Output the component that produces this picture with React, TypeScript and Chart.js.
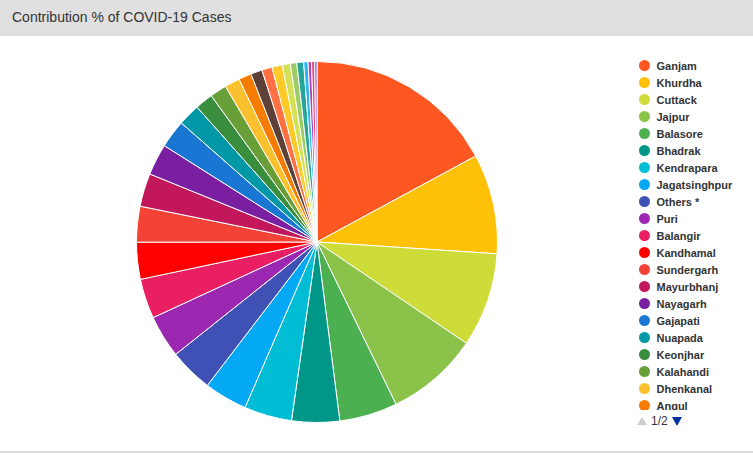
import React, { useEffect, useRef } from "react";
import { Chart, registerables } from "chart.js";

Chart.register(...registerables);

const titleText = "Contribution % of COVID-19 Cases";

const districts = [
  "Ganjam", "Khurdha", "Cuttack", "Jajpur", "Balasore", "Bhadrak", "Kendrapara",
  "Jagatsinghpur", "Others *", "Puri", "Balangir", "Kandhamal", "Sundergarh",
  "Mayurbhanj", "Nayagarh", "Gajapati", "Nuapada", "Keonjhar", "Kalahandi",
  "Dhenkanal", "Angul", "Sambalpur", "Jharsuguda", "Bargarh", "Koraput",
  "Rayagada", "Deogarh", "Boudh", "Sonepur", "Malkangiri", "Nabarangpur",
];

const shares = [
  17.1, 8.94, 8.44, 8.31, 5.19, 4.28, 4.27, 3.86, 3.92, 3.81, 3.56, 3.31, 3.19,
  2.97, 2.81, 2.5, 1.97, 1.61, 1.5, 1.36, 1.14, 1.03, 0.92, 0.92, 0.72, 0.58,
  0.61, 0.39, 0.31, 0.28, 0.2,
];

const colors = [
  "#FF5722", "#FFC107", "#CDDC39", "#8BC34A", "#4CAF50", "#009688", "#00BCD4",
  "#03A9F4", "#3F51B5", "#9C27B0", "#E91E63", "#FF0000", "#F44336", "#C2185B",
  "#7B1FA2", "#1976D2", "#0097A7", "#388E3C", "#689F38", "#FBC02D", "#F57C00",
  "#5D4037", "#FF7043", "#FFCA28", "#D4E157", "#9CCC65", "#26A69A", "#29B6F6",
  "#AB47BC", "#EC407A", "#7E57C2",
];

const legendPageSize = 21;
const legendPage = 1;
const legendPages = 2;

export default function App() {
  const ref = useRef<HTMLCanvasElement>(null);

  useEffect(() => {
    const chart = new Chart(ref.current!, {
      type: "pie",
      data: {
        labels: districts,
        datasets: [
          {
            data: shares,
            backgroundColor: colors,
            borderColor: "#ffffff",
            borderWidth: 1,
          },
        ],
      },
      options: {
        responsive: true,
        maintainAspectRatio: false,
        animation: false,
        layout: { padding: 0 },
        plugins: {
          legend: { display: false },
          tooltip: { enabled: false },
        },
      },
    });
    return () => chart.destroy();
  }, []);

  const pageItems = districts.slice(0, legendPageSize);

  return (
    <div
      style={{
        position: "absolute",
        left: 0,
        top: 0,
        width: 753,
        height: 455,
        background: "#ffffff",
        fontFamily: '"Liberation Sans", Arial, sans-serif',
        overflow: "hidden",
      }}
    >
      <div
        style={{
          position: "absolute",
          left: 0,
          top: 0,
          width: 753,
          height: 36,
          background: "#e0e0e0",
        }}
      >
        <div
          style={{
            position: "absolute",
            left: 12,
            top: 0,
            fontSize: 14,
            lineHeight: "34px",
            color: "#333333",
            whiteSpace: "nowrap",
          }}
        >
          {titleText}
        </div>
      </div>

      <div style={{ position: "absolute", left: 136, top: 61, width: 362, height: 362 }}>
        <canvas ref={ref} />
      </div>

      <div
        style={{
          position: "absolute",
          left: 639,
          top: 57,
          width: 114,
          height: 353,
          overflow: "hidden",
        }}
      >
        {pageItems.map((name, i) => (
          <div
            key={name}
            style={{ height: 17, display: "flex", alignItems: "center", whiteSpace: "nowrap" }}
          >
            <span
              style={{
                display: "inline-block",
                width: 11,
                height: 11,
                borderRadius: "50%",
                background: colors[i],
                flex: "0 0 auto",
              }}
            />
            <span
              style={{
                marginLeft: 6.5,
                fontSize: 11,
                fontWeight: "bold",
                color: "#333333",
              }}
            >
              {name}
            </span>
          </div>
        ))}
      </div>

      <div
        style={{
          position: "absolute",
          left: 637,
          top: 414,
          height: 14,
          display: "flex",
          alignItems: "center",
        }}
      >
        <span
          style={{
            width: 0,
            height: 0,
            borderLeft: "5px solid transparent",
            borderRight: "5px solid transparent",
            borderBottom: "8px solid #cccccc",
          }}
        />
        <span style={{ marginLeft: 4, fontSize: 12, color: "#333333" }}>
          {legendPage}/{legendPages}
        </span>
        <span
          style={{
            marginLeft: 4,
            width: 0,
            height: 0,
            borderLeft: "5px solid transparent",
            borderRight: "5px solid transparent",
            borderTop: "9px solid #003399",
          }}
        />
      </div>

      <div
        style={{
          position: "absolute",
          left: 0,
          top: 451,
          width: 753,
          height: 2,
          background: "#dddddd",
        }}
      />
    </div>
  );
}
